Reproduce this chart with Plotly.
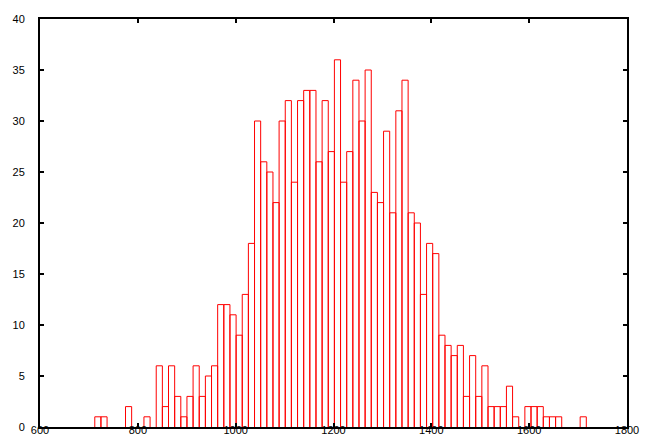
import plotly.graph_objects as go

# Histogram counts (80 equal bins)
counts = [1, 1, 0, 0, 0, 2, 0, 0, 1, 0,
          6, 2, 6, 3, 1, 3, 6, 3, 5, 6,
          12, 12, 11, 9, 13, 18, 30, 26, 25, 22,
          30, 32, 24, 32, 33, 33, 26, 32, 27, 36,
          24, 27, 34, 30, 35, 23, 22, 29, 21, 31,
          34, 21, 20, 13, 18, 17, 9, 8, 7, 8,
          3, 7, 3, 6, 2, 2, 2, 4, 1, 0,
          2, 2, 2, 1, 1, 1, 0, 0, 0, 1]
bin_start = 712.0
bin_width = 12.56

x_ticks = [600, 800, 1000, 1200, 1400, 1600, 1800]
y_ticks = [0, 5, 10, 15, 20, 25, 30, 35, 40]

# Box outlines built from the bin edges and counts (drawn in data space)
px, py = [], []
for i, c in enumerate(counts):
    if c <= 0:
        continue
    x0 = bin_start + bin_width * i
    x1 = x0 + bin_width
    px += [x0, x0, x1, x1, None]
    py += [0, c, c, 0, None]

fig = go.Figure(go.Scatter(
    x=px, y=py, mode="lines",
    line=dict(color="#ff0000", width=1),
    hoverinfo="skip",
))

axis_common = dict(
    showline=True, linecolor="black", linewidth=2, mirror="allticks",
    ticks="inside", ticklen=4, tickwidth=2, tickcolor="black",
    showgrid=False, zeroline=False,
    tickfont=dict(family="Liberation Sans", size=11, color="black"),
)

fig.update_layout(
    width=650, height=448,
    margin=dict(l=29, r=31, t=5, b=29),
    paper_bgcolor="white", plot_bgcolor="white",
    showlegend=False,
    xaxis=dict(range=[600, 1800], tickvals=x_ticks, ticklabelstandoff=-8, **axis_common),
    yaxis=dict(range=[0, 40], tickvals=y_ticks, ticklabelstandoff=11, **axis_common),
    shapes=[dict(type="line", xref="paper", yref="paper",
                 x0=1.0305, x1=1.0305, y0=-0.05, y1=1.02,
                 line=dict(color="#c8c8c8", width=1))],
)

fig.write_html("out.html")
